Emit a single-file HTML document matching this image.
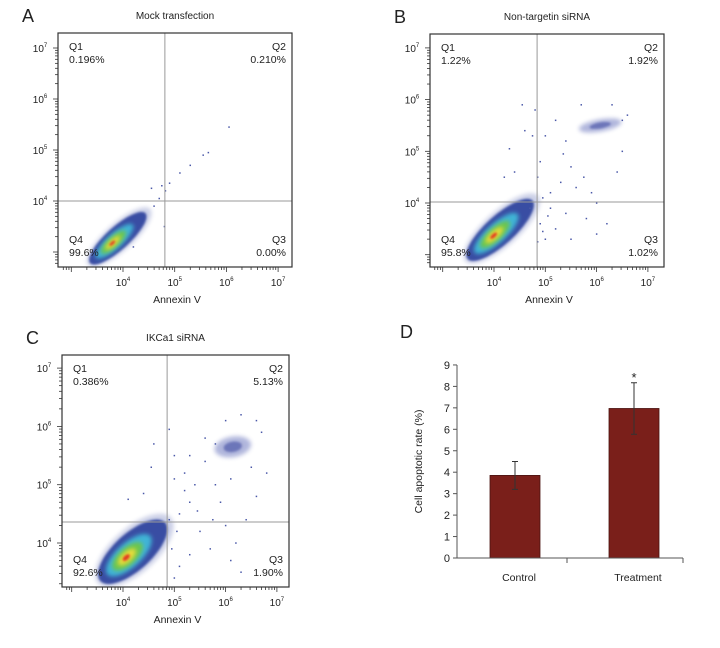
<!DOCTYPE html>
<html><head><meta charset="utf-8"><style>
body{margin:0;background:#fff}
svg{display:block;font-family:"Liberation Sans Narrow","Liberation Sans",sans-serif}
text{fill:#222}
</style></head><body>
<svg id="fig" width="720" height="648" viewBox="0 0 720 648">
<defs><filter id="bl" x="-50%" y="-50%" width="200%" height="200%"><feGaussianBlur stdDeviation="2"/></filter>
<filter id="bl1" x="-50%" y="-50%" width="200%" height="200%"><feGaussianBlur stdDeviation="1"/></filter></defs>
</svg>
<script>
// ---- data ----
const panelTitles=["Mock transfection","Non-targetin siRNA","IKCa1 siRNA"];
const panelLetters=["A","B","C"];
const quadPercents=[["0.196%","0.210%","0.00%","99.6%"],["1.22%","1.92%","1.02%","95.8%"],["0.386%","5.13%","1.90%","92.6%"]];
const quadGates=[[4.81,4.0],[4.84,4.02],[4.86,4.36]];
const mainClusters=[[3.90,3.27,0.72,0.22],[4.12,3.48,0.85,0.28],[4.19,3.85,0.85,0.36]];
const sideClusters=[[],[[6.07,5.50,0.42,0.12]],[[6.14,5.65,0.36,0.20]]];
const strayA=[[4.55,4.25],[4.75,4.3],[4.82,4.2],[4.9,4.35],[5.1,4.55],[5.3,4.7],[5.55,4.9],[5.65,4.95],[6.05,5.45],[4.8,3.5],[4.2,3.1],[4.6,3.9],[4.7,4.05]];
const strayB=[[4.6,5.4],[4.8,5.8],[4.75,5.3],[4.3,5.05],[4.4,4.6],[4.2,4.5],[4.9,4.8],[5.0,5.3],[5.2,5.6],[5.4,5.2],[5.5,4.7],[5.7,5.9],[5.9,4.2],[6.0,4.0],[5.8,3.7],[6.2,3.6],[6.4,4.6],[6.5,5.0],[5.3,4.4],[5.1,3.9],[5.2,3.5],[5.4,3.8],[5.0,3.3],[4.9,3.6],[4.95,4.1],[4.7,3.9],[5.6,4.3],[6.3,5.9],[6.6,5.7],[6.5,5.6],[5.5,3.3],[4.55,5.9],[5.35,4.95],[4.85,4.5],[5.1,4.2],[5.05,3.75],[4.95,3.45],[4.85,3.25],[6.0,3.4],[5.75,4.5]];
const strayC=[[4.6,5.7],[4.55,5.3],[4.4,4.85],[4.1,4.75],[4.9,5.95],[5.0,5.5],[5.2,5.2],[5.4,5.0],[5.3,4.7],[5.1,4.5],[5.6,5.4],[5.8,5.0],[5.9,4.7],[6.0,4.3],[6.2,4.0],[6.4,4.4],[6.6,4.8],[6.5,5.3],[6.8,5.2],[5.5,4.2],[5.7,3.9],[5.3,3.8],[5.1,3.6],[5.0,3.4],[4.95,3.9],[5.05,4.2],[4.9,4.4],[5.6,5.8],[6.3,6.2],[6.6,6.1],[6.0,6.1],[5.8,5.7],[5.3,5.5],[5.0,5.1],[6.1,3.7],[6.3,3.5],[4.85,3.2],[5.2,4.9],[5.45,4.55],[6.7,5.9],[5.75,4.4],[6.1,5.1]];
const strayPts=[strayA,strayB,strayC];
const barCats=["Control","Treatment"];
const barVals=[3.85,6.97];
const barErr=[0.65,1.2];
const barTicks=[0,1,2,3,4,5,6,7,8,9];
const decadeLabels=["4","5","6","7"];

// ---- layout ----
const svg=document.getElementById('fig');
const NS="http://www.w3.org/2000/svg";
function mk(tag,at,parent){const e=document.createElementNS(NS,tag);for(const k in at)e.setAttribute(k,at[k]);(parent||svg).appendChild(e);return e;}
const panels=[
 {f:[58,33,292,267],x0:123,kx:51.7,y0:201,ky:51},
 {f:[430,34,664,267],x0:494,kx:51.3,y0:203,ky:51.7},
 {f:[62,355,289,587],x0:123,kx:51.3,y0:543,ky:58.3}];
function txt(x,y,s,size,anchor,parent){const t=mk('text',{x:x,y:y,'font-size':size,'text-anchor':anchor||'start'},parent);t.textContent=s;return t;}
function sup(x,y,d,parent){const t=mk('text',{x:x,y:y,'font-size':10,'text-anchor':'middle'},parent);t.textContent='10';const s=document.createElementNS(NS,'tspan');s.setAttribute('font-size',6);s.setAttribute('dy',-5);s.textContent=d;t.appendChild(s);return t;}

panels.forEach((p,i)=>{
 const g=mk('g',{});
 
 
 const X=d=>p.x0+(d-4)*p.kx, Y=d=>p.y0-(d-4)*p.ky;
 const [l,t,r,b]=p.f;
 const L=txt(l-36,t-11,panelLetters[i],18,'start',g);
 
 const T=txt((l+r)/2,t-14,panelTitles[i],10,'middle',g);
 
 const clip='cp'+i;const cp=mk('clipPath',{id:clip},g);mk('rect',{x:l,y:t,width:r-l,height:b-t},cp);
 const pg=mk('g',{'clip-path':'url(#'+clip+')'},g);
 const drawCl=(c,main)=>{
  const cx=X(c[0]),cy=Y(c[1]);
  const ang=main?-42:-10;
  const ax=c[2]*p.kx,bx=c[3]*p.kx;
  const cg=mk('g',{transform:`translate(${cx},${cy}) rotate(${ang})`},pg);
  
  if(main){
   mk('ellipse',{cx:ax*0.05,cy:0,rx:ax*1.12,ry:bx*1.2,fill:'#5563b0',opacity:0.3,filter:'url(#bl)'},cg);
   mk('ellipse',{cx:0,cy:0,rx:ax,ry:bx,fill:'#2b3f9c',opacity:0.9,filter:'url(#bl1)'},cg);
   mk('ellipse',{cx:-ax*0.12,cy:0,rx:ax*0.66,ry:bx*0.66,fill:'#3fb4d6',filter:'url(#bl)'},cg);
   mk('ellipse',{cx:-ax*0.16,cy:0,rx:ax*0.44,ry:bx*0.46,fill:'#6cc64e',filter:'url(#bl)'},cg);
   mk('ellipse',{cx:-ax*0.18,cy:0,rx:ax*0.26,ry:bx*0.28,fill:'#e6dc3a',filter:'url(#bl)'},cg);
   mk('ellipse',{cx:-ax*0.2,cy:0,rx:ax*0.1,ry:bx*0.12,fill:'#e23a22',filter:'url(#bl1)'},cg);
  } else {
   mk('ellipse',{cx:0,cy:0,rx:ax,ry:bx,fill:'#3a4aa8',opacity:0.4,filter:'url(#bl)'},cg);
   mk('ellipse',{cx:0,cy:0,rx:ax*0.5,ry:bx*0.5,fill:'#2a3898',opacity:0.5,filter:'url(#bl1)'},cg);
  }
 };
 drawCl(mainClusters[i],true);
 sideClusters[i].forEach(c=>drawCl(c,false));
 strayPts[i].forEach(pt=>{
  const d=mk('rect',{x:X(pt[0])-0.7,y:Y(pt[1])-0.7,width:1.5,height:1.5,fill:'#4a58a8'},pg);
  
 });
 const gx=X(quadGates[i][0]),gy=Y(quadGates[i][1]);
 const vl=mk('line',{x1:gx,y1:t,x2:gx,y2:b,stroke:'#999','stroke-width':1},g);
 
 const hl=mk('line',{x1:l,y1:gy,x2:r,y2:gy,stroke:'#999','stroke-width':1},g);
 
 const fr=mk('rect',{x:l,y:t,width:r-l,height:b-t,fill:'none',stroke:'#333','stroke-width':1.2},g);
 
 const q=quadPercents[i];
 [['Q1',l+11,t+17,'start',q[0]],['Q2',r-6,t+17,'end',q[1]],['Q4',l+11,b-24,'start',q[3]],['Q3',r-6,b-24,'end',q[2]]].forEach(a=>{
  const qt=txt(a[1],a[2],a[0],10.5,a[3],g);
  const pt=txt(a[1],a[2]+13,a[4],10.5,a[3],g);
 });
 const ax=mk('g',{stroke:'#333','stroke-width':0.8},g);
 for(let d=2;d<=7;d++){const xx=X(d);if(xx>l+2&&xx<r)mk('line',{x1:xx,y1:b,x2:xx,y2:b+5},ax);const yy=Y(d);if(yy<b-2&&yy>t)mk('line',{x1:l,y1:yy,x2:l-5,y2:yy},ax);}
 for(let d=2;d<7;d++)for(let m=2;m<10;m++){const v=d+Math.log10(m);const xx=X(v);if(xx>l+2&&xx<r)mk('line',{x1:xx,y1:b,x2:xx,y2:b+3},ax);const yy=Y(v);if(yy<b-2&&yy>t)mk('line',{x1:l,y1:yy,x2:l-3,y2:yy},ax);}
 decadeLabels.forEach(s=>{const d=+s;
  const xl=sup(X(d),b+19,s,g);
  const yl=sup(l-18,Y(d)+4,s,g);
 });
 const xt=txt((l+r)/2+2,b+36,'Annexin V',10.5,'middle',g);
});

// ---- bar chart D ----
const bg=mk('g',{});

const bx0=457,bx1=683,by0=558,bk=21.45;
const BY=v=>by0-v*bk;
const ld=txt(400,338,'D',18,'start',bg);
const catX=[515,634];
barCats.forEach((c,i)=>{
 const r=mk('rect',{x:catX[i]-25,y:BY(barVals[i]),width:50,height:by0-BY(barVals[i]),fill:'#7a1f1a',stroke:'#4a1210','stroke-width':0.8},bg);
 
 const e=mk('path',{d:`M${catX[i]},${BY(barVals[i]-barErr[i])}V${BY(barVals[i]+barErr[i])}M${catX[i]-3},${BY(barVals[i]+barErr[i])}h6M${catX[i]-3},${BY(barVals[i]-barErr[i])}h6`,stroke:'#333','stroke-width':1,fill:'none'},bg);
 
 const cl=txt(catX[i]+4,581,c,10.5,'middle',bg);
});
const st=txt(catX[1],BY(barVals[1]+barErr[1])-1,'*',13,'middle',bg);
const axl=mk('path',{d:`M${bx0},${BY(9)}V${by0}H${bx1}M567,${by0}v5M${bx1},${by0}v5`,stroke:'#555','stroke-width':1,fill:'none'},bg);

barTicks.forEach(v=>{
 mk('line',{x1:bx0-4,y1:BY(v),x2:bx0,y2:BY(v),stroke:'#555','stroke-width':1},bg);
 const tl=txt(bx0-7,BY(v)+4,String(v),11,'end',bg);
});
const yt=txt(0,0,'Cell apoptotic rate (%)',10.5,'middle',bg);
yt.setAttribute('transform',`translate(422,${(BY(9)+by0)/2}) rotate(-90)`);

</script>
</body></html>
